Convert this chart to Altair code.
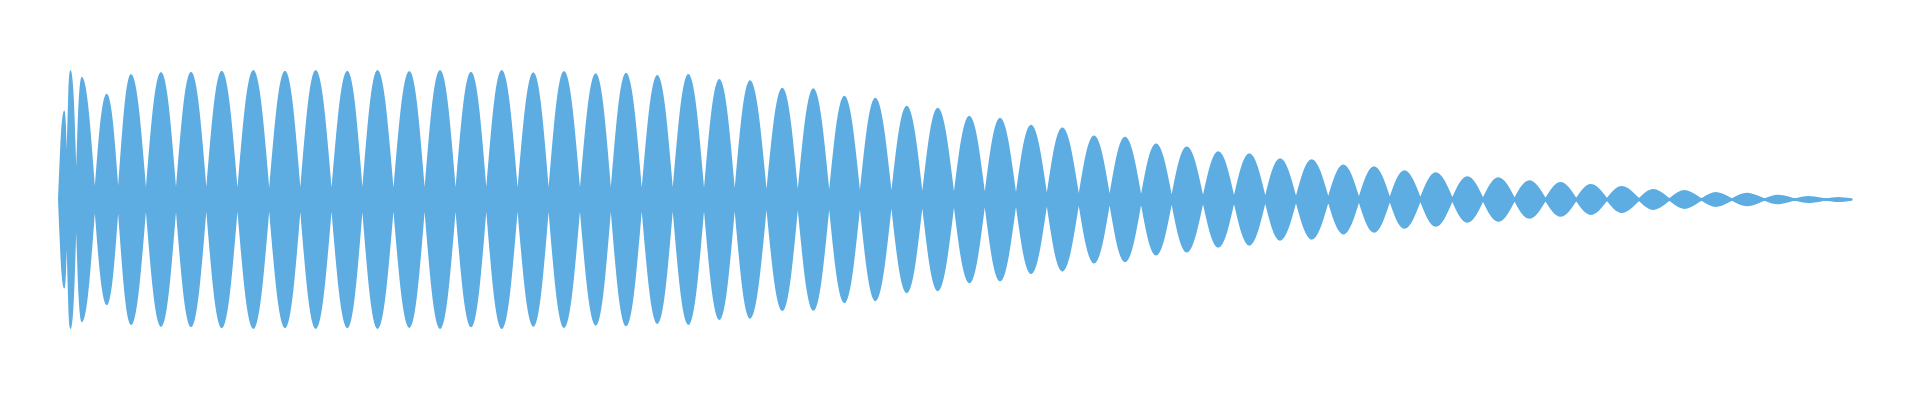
import altair as alt
import pandas as pd

# Time (ms) of each envelope peak (plus start / end of the clip)
TIME_MS = [
    0, 5.3, 7.5, 11.5, 22.7, 47.7, 72, 102, 132, 162.7,
    194.3, 226, 256.7, 288.3, 318.5, 350.3, 381, 412, 442.7, 474.3,
    505, 536.7, 567, 598.3, 629.3, 660.3, 691, 723.3, 754.3, 785.3,
    816.3, 847.7, 878.7, 910.3, 941, 972, 1003.3, 1035, 1066, 1097,
    1127.7, 1159.3, 1190.3, 1221, 1252.7, 1284.3, 1315, 1345.3, 1376.7, 1408.3,
    1439.3, 1470.3, 1501.5, 1531.7, 1562.7, 1594.3, 1625.3, 1656.7, 1687.7, 1718.7,
    1749.3, 1779.3, 1792.7,
]

# Signed peak amplitude (arbitrary units, full scale about 130)
AMPLITUDE = [
    0, 88.8, 31, 129.5, -122.8, 105.5, -125.5, 127.5, -127.8, 128.8,
    -129.5, 128.8, -129.5, 128.8, -129.5, 128.5, -129.5, 127.8, -129.5, 127.2,
    -128.5, 126.2, -126.8, 124.5, -125.5, 120.5, -119.2, 111.5, -111.2, 103.5,
    -101.5, 93.5, -91.5, 83.5, -81.5, 74.2, -71.5, 63.5, -62.2, 55.5,
    -52.5, 47.5, -45.5, 40.5, -39.5, 34.2, -32.5, 28.5, -26.5, 22.5,
    -21.5, 18.5, -16.5, 14.5, -12.5, 9.5, -8.5, 6.5, -5.8, 3.8,
    -2.5, 1.5, 0,
]

# Residual level around the zero crossings (the thin "neck")
NECK_TIME_MS = [0, 341, 741, 1041, 1341, 1541, 1792.7]
NECK_LEVEL = [4.5, 5.5, 4.5, 3.5, 2.8, 1.8, 1.3]

COLOR = "#5dade2"

n = min(len(TIME_MS), len(AMPLITUDE))
wave = pd.DataFrame({"t": TIME_MS[:n], "a": AMPLITUDE[:n]})
wave["lo"] = -wave["a"]

neck = pd.DataFrame({"t": NECK_TIME_MS, "a": NECK_LEVEL})
neck["lo"] = -neck["a"]

x_scale = alt.Scale(domain=[-51, 1849], nice=False, zero=False)
y_scale = alt.Scale(domain=[-190, 193], nice=False, zero=False)

env = alt.Chart(wave).mark_area(
    interpolate="monotone", color=COLOR, opacity=1,
    stroke=COLOR, strokeWidth=2, strokeJoin="round",
).encode(
    x=alt.X("t:Q", scale=x_scale, axis=None),
    y=alt.Y("a:Q", scale=y_scale, axis=None),
    y2="lo:Q",
)

band = alt.Chart(neck).mark_area(color=COLOR, opacity=1).encode(
    x=alt.X("t:Q", scale=x_scale, axis=None),
    y=alt.Y("a:Q", scale=y_scale, axis=None),
    y2="lo:Q",
)

chart = (
    alt.layer(band, env)
    .properties(width=1900, height=380, padding=0, autosize="none",
                background="white")
    .configure_view(strokeWidth=0, stroke="transparent")
)

chart.save("out.html", embed_options={"renderer": "svg", "actions": False})
